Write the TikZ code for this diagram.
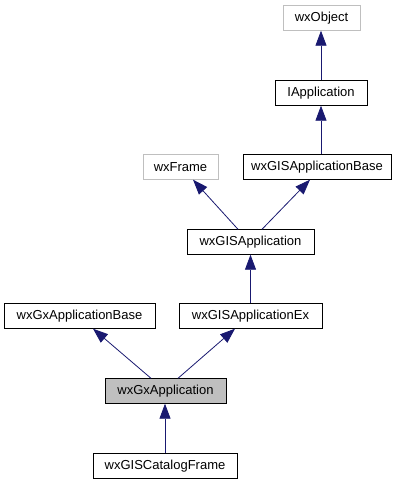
\documentclass[tikz,border=0pt]{standalone}
\usepackage{fontspec}
\setmainfont{Liberation Sans}
\usepackage{xcolor}
\usetikzlibrary{arrows.meta,positioning}
\definecolor{edgeblue}{HTML}{191970}
\definecolor{boxgrey}{HTML}{BFBFBF}

\begin{document}
\begin{tikzpicture}[
		x = 1pt, y = -1pt,
		cls/.style = {draw = black, rectangle, minimum height = 25pt, inner sep = 0pt, font = \fontsize{13}{14}\selectfont},
		ext/.style = {cls, draw = boxgrey},
		cur/.style = {cls, fill = boxgrey},
		inh/.style = {draw = edgeblue, line width = 0.8pt, -{Triangle[length = 15pt, width = 11pt]}}
		]
\useasboundingbox (0,0) rectangle (404,485);

% classes, top to bottom
\node[ext, minimum width = 77pt] (wxObject) at (321.5,18) {wxObject};
\node[cls, minimum width = 92pt] (IApplication) at (321,93) {IApplication};
\node[ext, minimum width = 75pt] (wxFrame) at (180.5,167) {wxFrame};
\node[cls, minimum width = 148pt] (wxGISApplicationBase) at (317,167) {wxGISApplicationBase};
\node[cls, minimum width = 127pt] (wxGISApplication) at (250.5,242) {wxGISApplication};
\node[cls, minimum width = 151pt] (wxGxApplicationBase) at (79.5,316) {wxGxApplicationBase};
\node[cls, minimum width = 143pt] (wxGISApplicationEx) at (250.5,316) {wxGISApplicationEx};
\node[cur, minimum width = 121pt] (wxGxApplication) at (165.5,391) {wxGxApplication};
\node[cls, minimum width = 144pt] (wxGISCatalogFrame) at (165,466) {wxGISCatalogFrame};

% inheritance
\draw[inh] (IApplication.north) -- (wxObject.south -| IApplication.north);
\draw[inh] (wxGISApplicationBase.north -| IApplication.north) -- (IApplication.south);
\draw[inh] ([xshift = -12.5pt]wxGISApplication.north) -- ([xshift = 12.5pt]wxFrame.south);
\draw[inh] ([xshift = 11.5pt]wxGISApplication.north) -- ([xshift = -7pt]wxGISApplicationBase.south);
\draw[inh] (wxGISApplicationEx.north) -- (wxGISApplication.south);
\draw[inh] ([xshift = -14.5pt]wxGxApplication.north) -- ([xshift = 13.5pt]wxGxApplicationBase.south);
\draw[inh] ([xshift = 12.5pt]wxGxApplication.north) -- ([xshift = -15.5pt]wxGISApplicationEx.south);
\draw[inh] (wxGISCatalogFrame.north) -- (wxGxApplication.south -| wxGISCatalogFrame.north);

\end{tikzpicture}
\end{document}
